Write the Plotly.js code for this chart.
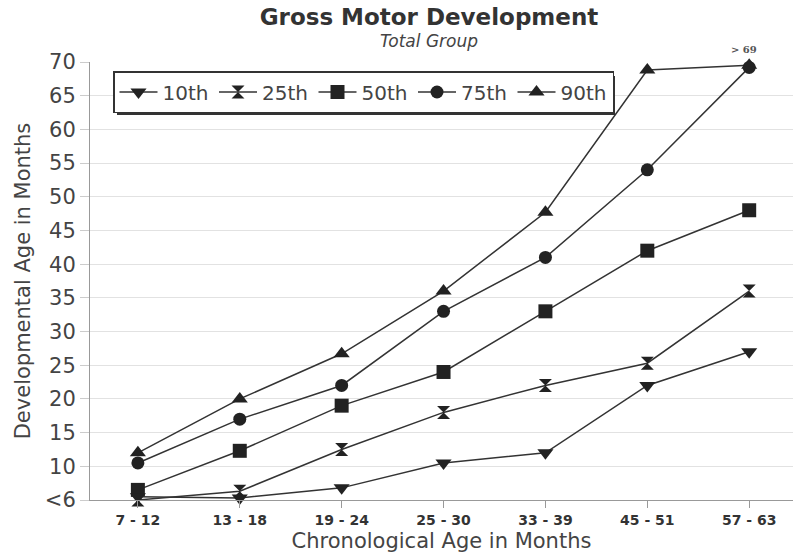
<!DOCTYPE html>
<html>
<head>
<meta charset="utf-8">
<script src="https://cdn.plot.ly/plotly-3.0.1.min.js"></script>
<style>html,body{margin:0;padding:0;background:#fff;}</style>
</head>
<body>
<div id="chart" style="width:798px;height:558px;"></div>
<script>
const categories = ['7 - 12','13 - 18','19 - 24','25 - 30','33 - 39','45 - 51','57 - 63'];
const p10 = [5.5, 5.3, 6.8, 10.5, 12, 22, 27];
const p25 = [5.0, 6.3, 12.5, 18, 22, 25.3, 36];
const p50 = [6.5, 12.3, 19, 24, 33, 42, 48];
const p75 = [10.5, 17, 22, 33, 41, 54, 69.2];
const p90 = [12, 20, 26.7, 36, 47.7, 68.8, 69.5];
const seriesNames = ['10th','25th','50th','75th','90th'];
const yTickVals = [5,10,15,20,25,30,35,40,45,50,55,60,65,70];
const yTickText = ['<6','10','15','20','25','30','35','40','45','50','55','60','65','70'];

const FONT = 'DejaVu Sans';
const lineCol = '#333';
const markCol = '#222';

function tr(name, y, symbol, size) {
  return {
    type: 'scatter', mode: 'lines+markers', name: name,
    x: categories, y: y, cliponaxis: false,
    line: {color: lineCol, width: 1.5},
    marker: {symbol: symbol, size: size, color: markCol, line: {width: 0}}
  };
}

// drawn order: 90th first so that 75th circle lies on top
const data = [
  tr(seriesNames[4], p90, 'triangle-up', 14),
  tr(seriesNames[3], p75, 'circle', 13),
  tr(seriesNames[2], p50, 'square', 14),
  tr(seriesNames[1], p25, 'hourglass', 13),
  tr(seriesNames[0], p10, 'triangle-down', 14)
];

const W = 798, H = 558;
const L = 90, R = 5, T = 62, B = 58;
const pw = W - L - R, ph = H - T - B;
function px2paperX(px){ return (px - L) / pw; }
function px2paperY(py){ return (H - B - py) / ph; }

const layout = {
  width: W, height: H,
  margin: {l: L, r: R, t: T, b: B},
  paper_bgcolor: '#fff', plot_bgcolor: '#fff',
  font: {family: FONT, color: '#333'},
  showlegend: true,
  title: {
    text: 'Gross Motor Development',
    font: {family: FONT, size: 23, weight: 'bold', color: '#333'},
    x: 429 / W, xref: 'container', xanchor: 'center',
    y: 1 - 17 / H, yref: 'container', yanchor: 'middle'
  },
  xaxis: {
    type: 'category',
    range: [-0.47, 6.43],
    showline: true, linecolor: '#999', linewidth: 1,
    showgrid: false, zeroline: false,
    ticks: 'outside', ticklen: 7, tickcolor: '#999',
    tickfont: {family: FONT, size: 14, weight: 'bold', color: '#333'},
    title: {text: 'Chronological Age in Months', font: {family: FONT, size: 21, color: '#444'}, standoff: 6}
  },
  yaxis: {
    range: [5, 70],
    tickvals: yTickVals, ticktext: yTickText,
    showline: true, linecolor: '#999', linewidth: 1,
    showgrid: true, gridcolor: '#e2e2e2', gridwidth: 1,
    zeroline: false,
    ticks: 'outside', ticklen: 9, tickcolor: '#ccc',
    tickfont: {family: FONT, size: 21, color: '#444'},
    title: {text: 'Developmental Age in Months', font: {family: FONT, size: 21, color: '#444'}, standoff: 8}
  },
  legend: {
    orientation: 'h', traceorder: 'reversed',
    x: px2paperX(113), xanchor: 'left',
    y: px2paperY(71), yanchor: 'top',
    bgcolor: '#fff', bordercolor: '#333', borderwidth: 1.5,
    font: {family: FONT, size: 20, color: '#444'},
    itemwidth: 38,
    entrywidth: 46.5, entrywidthmode: 'pixels'
  },
  shapes: [
    {type: 'rect', xref: 'paper', yref: 'paper', layer: 'above',
     x0: px2paperX(117), x1: px2paperX(615), y0: px2paperY(76), y1: px2paperY(115),
     fillcolor: '#333', line: {width: 0}}
  ],
  annotations: [
    {text: '&gt; 69', x: categories[6], xref: 'x', y: px2paperY(42), yref: 'paper',
     xshift: -5, showarrow: false,
     font: {family: 'DejaVu Serif', size: 10, weight: 'bold', color: '#555'}},
    {text: '<i>Total Group</i>', xref: 'paper', yref: 'paper',
     x: px2paperX(429), y: px2paperY(41), xanchor: 'center', yanchor: 'middle', showarrow: false,
     font: {family: FONT, size: 17, color: '#444'}}
  ]
};

Plotly.newPlot('chart', data, layout, {displayModeBar: false, staticPlot: true});
</script>
</body>
</html>
